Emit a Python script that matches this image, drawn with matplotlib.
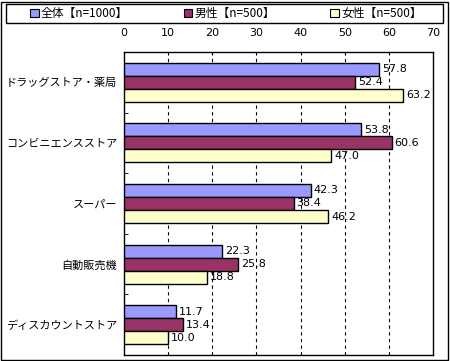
import numpy as np
import matplotlib
matplotlib.use("Agg")
import matplotlib.pyplot as plt
import matplotlib.patches as mpatches

plt.rcParams['font.family'] = ['Noto Sans CJK JP', 'DejaVu Sans']

categories = ["ドラッグストア・薬局", "コンビニエンスストア", "スーパー", "自動販売機", "ディスカウントストア"]
series_names = ["全体【n=1000】", "男性【n=500】", "女性【n=500】"]
total = [57.8, 53.8, 42.3, 22.3, 11.7]
male = [52.4, 60.6, 38.4, 25.8, 13.4]
female = [63.2, 47.0, 46.2, 18.8, 10.0]
xticks = [0, 10, 20, 30, 40, 50, 60, 70]

colors = ["#9999FF", "#993366", "#FFFFCC"]

W, H = 450, 361
fig = plt.figure(figsize=(W / 100, H / 100), dpi=100)
ax = fig.add_axes([124 / W, 1 - 355 / H, (433 - 124) / W, (355 - 52) / H])

y = np.arange(len(categories))
bh = 0.215
for i, (vals, c) in enumerate(zip([total, male, female], colors)):
    pos = y + (i - 1) * bh
    ax.barh(pos, vals, height=bh, color=c, edgecolor="black", linewidth=1.0, zorder=3)
    for p, v in zip(pos, vals):
        ax.text(v + 0.7, p, f"{v:.1f}", va="center", ha="left", fontsize=8,
                family="DejaVu Sans", zorder=4)

ax.set_xlim(0, 70)
ax.set_ylim(len(categories) - 0.5, -0.5)
ax.set_xticks(xticks)
ax.xaxis.tick_top()
ax.tick_params(axis="x", length=0, labelsize=8, pad=10)
for lbl in ax.get_xticklabels():
    lbl.set_family("DejaVu Sans")
ax.set_yticks(y)
ax.set_yticklabels(categories, fontsize=8)
ax.tick_params(axis="y", which="major", length=0, pad=5)
ax.set_yticks(np.arange(len(categories) - 1) + 0.5, minor=True)
ax.tick_params(axis="y", which="minor", length=3, direction="in", color="black")
for v in xticks[1:-1]:
    ax.axvline(v, color="black", linestyle=(0, (3, 3)), linewidth=0.8, zorder=1)
for s in ax.spines.values():
    s.set_color("black")
    s.set_linewidth(1.0)

# legend frame drawn separately so the entries can sit centred like the original
fig.patches.append(mpatches.Rectangle((6 / W, 1 - 23 / H), 437 / W, 19 / H,
                                      transform=fig.transFigure, fill=False,
                                      edgecolor="black", linewidth=1.0))
handles = [mpatches.Patch(facecolor=c, edgecolor="black", linewidth=0.8, label=n)
           for c, n in zip(colors, series_names)]
leg = fig.legend(handles=handles, loc="center", ncol=3,
                 bbox_to_anchor=(226 / W, 1 - 13.5 / H),
                 fontsize=8.5, frameon=False, borderpad=0,
                 handlelength=0.7, handleheight=0.7, handletextpad=0.2,
                 columnspacing=4.7, borderaxespad=0)

fig.patches.append(mpatches.Rectangle((1 / W, 1 / H), 447 / W, 358 / H,
                                      transform=fig.transFigure, fill=False,
                                      edgecolor="black", linewidth=1.0))

fig.savefig("out.png", dpi=100)
